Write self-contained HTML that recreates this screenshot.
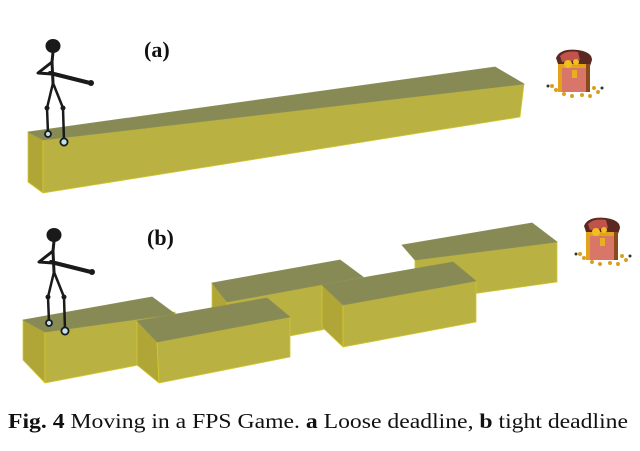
<!DOCTYPE html>
<html><head><style>
html,body{margin:0;padding:0;background:#fff;}
svg{display:block;}
</style></head><body>
<svg width="640" height="451" viewBox="0 0 640 451" xmlns="http://www.w3.org/2000/svg">
<defs>
<g id="fig" stroke="#1a1a1a" stroke-linecap="round" stroke-linejoin="round" fill="none">
  <ellipse cx="53" cy="46" rx="7.5" ry="7" fill="#1a1a1a" stroke="none"/>
  <path d="M53 52 L52 62 L38 73 L52 74" stroke-width="3"/>
  <path d="M52 62 L53 83" stroke-width="3"/>
  <path d="M50 73 L90 83" stroke-width="4"/>
  <circle cx="91" cy="83" r="3" fill="#1a1a1a" stroke="none"/>
  <path d="M53 83 L47 108 L48 133 M53 83 L63 108 L64 141" stroke-width="2.5"/>
  <circle cx="47" cy="108" r="2.5" fill="#1a1a1a" stroke="none"/>
  <circle cx="63" cy="108" r="2.5" fill="#1a1a1a" stroke="none"/>
  <circle cx="48" cy="134" r="3" fill="#bfe0f0" stroke-width="1.8"/>
  <circle cx="64" cy="142" r="3.6" fill="#bfe0f0" stroke-width="1.8"/>
</g>
<g id="chest">
  <path d="M4 8 Q8 -2 26 0 Q40 2 40 10 L36 22 L8 20 Z" fill="#5a2a22"/>
  <path d="M8 6 Q14 0 26 2 L28 10 L10 12 Z" fill="#c0544a"/>
  <rect x="6" y="14" width="32" height="28" fill="#d9766a"/>
  <rect x="6" y="14" width="32" height="4" fill="#e2a21a"/>
  <rect x="6" y="14" width="4" height="28" fill="#e2a21a"/>
  <rect x="34" y="14" width="4" height="28" fill="#8a4a1a"/>
  <rect x="20" y="20" width="5" height="8" fill="#e8b020"/>
  <circle cx="16" cy="14" r="4" fill="#f0c020"/>
  <circle cx="24" cy="12" r="3" fill="#f0c020"/>
  <g fill="#d9a020">
    <circle cx="0" cy="36" r="2"/><circle cx="4" cy="40" r="2"/><circle cx="42" cy="38" r="2"/>
    <circle cx="46" cy="42" r="2"/><circle cx="12" cy="44" r="2"/><circle cx="30" cy="45" r="2"/>
    <circle cx="38" cy="46" r="2"/><circle cx="20" cy="46" r="2"/>
  </g>
  <circle cx="-4" cy="36" r="1.5" fill="#333"/><circle cx="50" cy="38" r="1.5" fill="#333"/>
</g>
</defs>

<!-- (a) bar -->
<g stroke="#d4c82c" stroke-width="0.8" stroke-linejoin="round">
  <polygon points="28,182 28,132 43,140 43,193" fill="#b0a638"/>
  <polygon points="43,140 524,84 520,117 43,193" fill="#b9b142"/>
  <polygon points="28,132 495,67 524,84 43,140" fill="#878a54" stroke="#8c8e58"/>
</g>

<use href="#fig"/>
<text x="144" y="57" font-family="Liberation Serif, serif" font-weight="bold" font-size="22" fill="#111">(a)</text>
<use href="#chest" transform="translate(552,50)"/>

<!-- (b) segments -->
<g stroke="#d4c82c" stroke-width="0.8" stroke-linejoin="round">
  <polygon points="415,260 557,242 557,282 415,302" fill="#b9b142"/>
  <polygon points="402,245 532,223 557,242 415,260" fill="#878a54" stroke="#8c8e58"/>
  <polygon points="212,283 227,302 227,348 212,330" fill="#b0a638"/>
  <polygon points="227,302 363,277 363,322 227,348" fill="#b9b142"/>
  <polygon points="212,283 340,260 363,277 227,302" fill="#878a54" stroke="#8c8e58"/>
  <polygon points="322,285 343,305 343,347 322,327" fill="#b0a638"/>
  <polygon points="343,305 476,281 476,322 343,347" fill="#b9b142"/>
  <polygon points="322,285 453,262 476,281 343,305" fill="#878a54" stroke="#8c8e58"/>
  <polygon points="23,320 45,332 45,383 23,360" fill="#b0a638"/>
  <polygon points="45,332 175,312 175,358 45,383" fill="#b9b142"/>
  <polygon points="23,320 152,297 175,314 45,332" fill="#878a54" stroke="#8c8e58"/>
  <polygon points="137,321 157,342 159,383 137,365" fill="#b0a638"/>
  <polygon points="157,342 290,317 290,357 159,383" fill="#b9b142"/>
  <polygon points="137,321 267,298 290,317 157,342" fill="#878a54" stroke="#8c8e58"/>
</g>

<use href="#fig" transform="translate(1,189)"/>
<text x="147" y="245" font-family="Liberation Serif, serif" font-weight="bold" font-size="22" fill="#111">(b)</text>
<use href="#chest" transform="translate(580,218)"/>

<text x="8" y="428" font-family="Liberation Serif, serif" font-size="21" fill="#111" textLength="620" lengthAdjust="spacingAndGlyphs"><tspan font-weight="bold">Fig. 4</tspan>   Moving in a FPS Game. <tspan font-weight="bold">a</tspan> Loose deadline, <tspan font-weight="bold">b</tspan> tight deadline</text>
</svg>
</body></html>
